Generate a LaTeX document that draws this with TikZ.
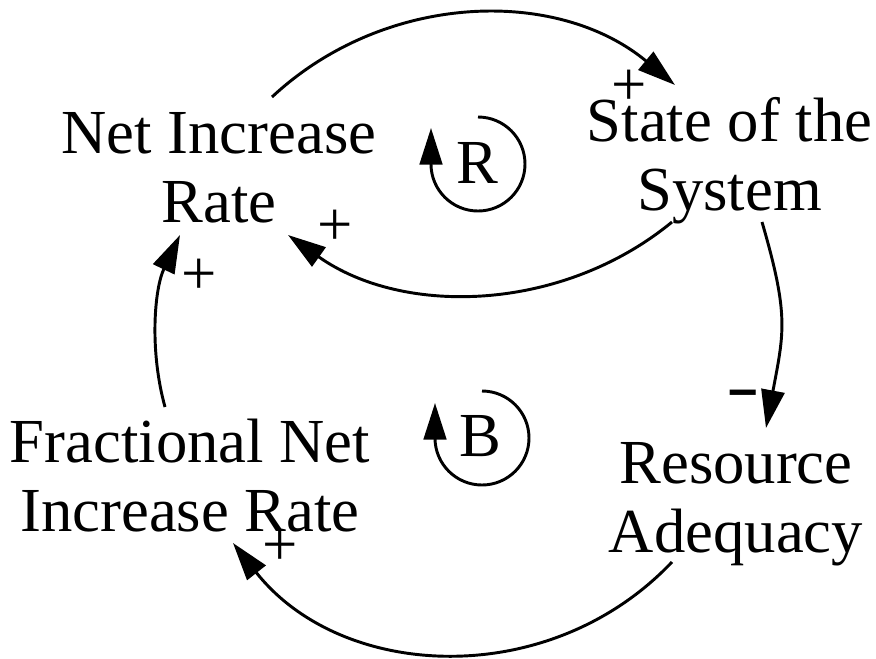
\documentclass[tikz,border=0pt]{standalone}
\usepackage{fontspec}
\setmainfont{Liberation Serif}
\usetikzlibrary{arrows.meta}
\begin{document}
\begin{tikzpicture}[x=0.75pt,y=-0.75pt,
  bigfont/.style={font=\fontsize{47}{51.75}\selectfont},
  var/.style={bigfont, align=center, inner sep=0pt, anchor=north},
  link/.style={line width=2.2pt, -{Triangle[length=28.5pt,width=17.5pt]}},
  loopsym/.style={line width=2.2pt, -{Triangle[length=27.5pt,width=17pt]}},
  pol/.style={bigfont, inner sep=0pt, anchor=center},
  looplbl/.style={bigfont, inner sep=0pt, anchor=base}]
\path[use as bounding box, fill=white] (0,0) rectangle (876,658);

% variables
\node[var] (nir)  at (219,112) {Net Increase\\Rate};
\node[var] (sos)  at (729.5,97) {State of the\\System};
\node[var] (fnir) at (190,419) {Fractional Net\\Increase Rate};
\node[var] (ra)   at (736,442) {Resource\\Adequacy};

% connector end points
\coordinate (nir-out)  at (272,97);
\coordinate (sos-in)   at (675,85);
\coordinate (sos-out1) at (672,222);
\coordinate (nir-in1)  at (288,235);
\coordinate (sos-out2) at (762,222);
\coordinate (ra-in)    at (766,428);
\coordinate (ra-out)   at (672,562);
\coordinate (fnir-in)  at (233,543);
\coordinate (fnir-out) at (165,407);
\coordinate (nir-in2)  at (180,235);

% links
\draw[link] (nir-out) .. controls (384.4,-7.8) and (556.6,-13.2) .. (sos-in);
\draw[link] (sos-out1) .. controls (562.6,312) and (403.4,317) .. (nir-in1);
\draw[link] (sos-out2) .. controls (789.3,315.6) and (784,332.2) .. (ra-in);
\draw[link] (ra-out) .. controls (550,690.7) and (342.1,681.3) .. (fnir-in);
\draw[link] (fnir-out) .. controls (149.2,349.7) and (154.5,288.6) .. (nir-in2);

% polarities
\node[pol] (p1) at (629,88) {+};
\node[pol] (p2) at (335,228) {+};
\node[pol] (p3) at (199,277) {+};
\node[pol] (p4) at (280,548) {+};
\node[pol] (m1) at (743,399) {\scalebox{1.6}[1]{\bfseries -}};

% loop identifiers
\coordinate (rc) at (478,164);
\coordinate (bc) at (482,438);
\draw[loopsym] (rc) ++(0,-47) arc[start angle=-90,end angle=180,radius=47] -- ++(0,-36);
\draw[loopsym] (bc) ++(0,-47) arc[start angle=-90,end angle=180,radius=47] -- ++(0,-35);
\node[looplbl] (rl) at (477,183) {R};
\node[looplbl] (bl) at (480,456) {B};
\end{tikzpicture}
\end{document}
